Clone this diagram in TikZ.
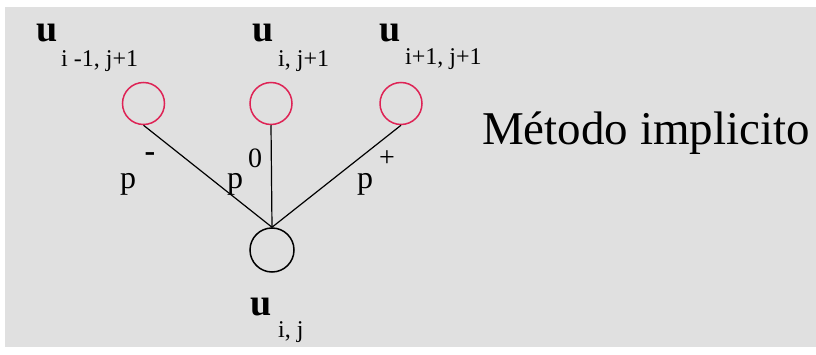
\documentclass[tikz,border=0pt]{standalone}
\usepackage{fontspec}
\setmainfont{Liberation Serif}
\definecolor{nodered}{RGB}{222,35,85}
\definecolor{marble}{RGB}{224,224,224}
\begin{document}
\begin{tikzpicture}[x=1pt,y=-1pt,
  redc/.style={circle,draw=nodered,line width=1.5pt,minimum size=42pt,inner sep=0pt},
  blkc/.style={circle,draw=black,line width=1.5pt,minimum size=44pt,inner sep=0pt},
  edge/.style={draw=black,line width=1.2pt},
  ulab/.style={anchor=base west,inner sep=0pt,font=\fontsize{38}{44}\selectfont\bfseries},
  sublab/.style={anchor=base west,inner sep=0pt,font=\fontsize{24}{28}\selectfont},
  plab/.style={anchor=base west,inner sep=0pt,font=\fontsize{32}{36}\selectfont},
  suplab/.style={anchor=center,inner sep=0pt,font=\fontsize{28}{30}\selectfont},
  title/.style={anchor=base west,inner sep=0pt,font=\fontsize{47}{52}\selectfont}]
\useasboundingbox (0,0) rectangle (816,355);
\fill[white] (0,0) rectangle (816,355);
\fill[marble] (5,7) rectangle (816,347);
% circles
\node[redc] (l) at (143.5,103.5) {};
\node[redc] (m) at (271,103.5) {};
\node[redc] (r) at (401,103.5) {};
\node[blkc] (b) at (272,250) {};
% connectors
\draw[edge] (l.south) -- (b.north);
\draw[edge] (m.south) -- (b.north);
\draw[edge] (r.south) -- (b.north);
% labels
\node[ulab] (u1) at (36,42) {u};
\node[sublab] (s1) at (61,67) {i -1, j+1};
\node[ulab] (u2) at (252,42) {u};
\node[sublab] (s2) at (278,67) {i, j+1};
\node[ulab] (u3) at (379,42) {u};
\node[sublab] (s3) at (405,65) {i+1, j+1};
\node[ulab] (u4) at (250,315) {u};
\node[sublab] (s4) at (278,337) {i, j};
\node[plab] (p1) at (120,189) {p};
\node[suplab,font=\fontsize{32}{34}\selectfont\bfseries] (q1) at (150,157) {-};
\node[plab] (p2) at (227,189) {p};
\node[suplab] (q2) at (255,158) {0};
\node[plab] (p3) at (357,189) {p};
\node[suplab] (q3) at (387,159) {+};
\node[title] (t) at (482,145) {Método implicito};
\end{tikzpicture}
\end{document}
